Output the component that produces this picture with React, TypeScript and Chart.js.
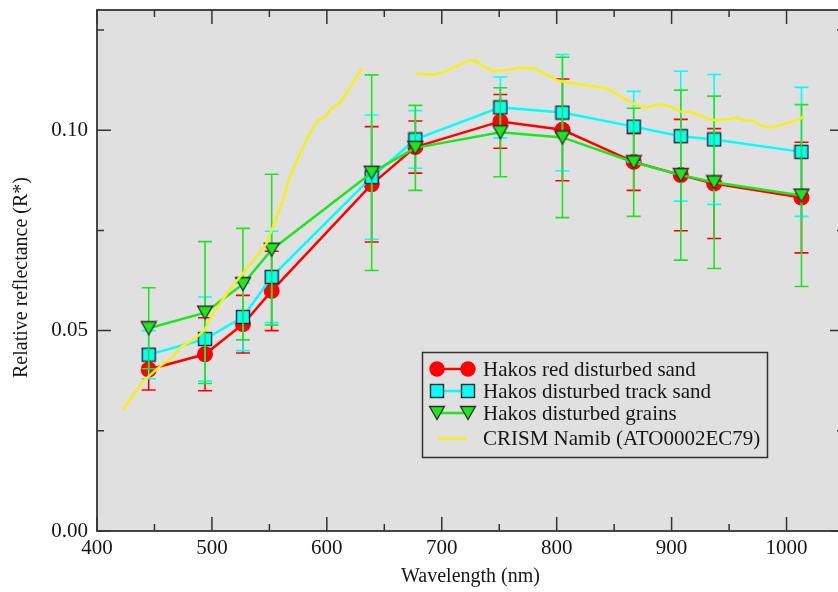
import React, { useEffect, useRef } from 'react';
import { Chart, registerables } from 'chart.js';

Chart.register(...registerables);

// ---------------- data ----------------
const wavelengths = [445, 494, 527, 552, 639, 677, 751, 805, 867, 908, 937, 1013];

const redSand = [0.0403, 0.0441, 0.0516, 0.0599, 0.0865, 0.0958, 0.1022, 0.1001, 0.0921, 0.0888, 0.0867, 0.0832];
const redSandErr = [0.0051, 0.0091, 0.0072, 0.0099, 0.0144, 0.0065, 0.0067, 0.0127, 0.0071, 0.0139, 0.0137, 0.0138];

const trackSand = [0.044, 0.0479, 0.0534, 0.0634, 0.0883, 0.0977, 0.1057, 0.1044, 0.1009, 0.0985, 0.0977, 0.0946];
const trackSandErr = [0.006, 0.0105, 0.0084, 0.0114, 0.0155, 0.0072, 0.0076, 0.0145, 0.0088, 0.0162, 0.0162, 0.0161];

const grains = [0.0506, 0.0545, 0.0616, 0.0702, 0.0894, 0.0956, 0.0995, 0.0982, 0.092, 0.0888, 0.087, 0.0837];
const grainsErr = [0.0101, 0.0177, 0.0139, 0.0188, 0.0244, 0.0106, 0.0111, 0.02, 0.0135, 0.0212, 0.0215, 0.0227];

const crismWavelengths = [
  422.5, 428.3, 439.9, 454.4, 466.0, 473.3, 483.4, 493.6, 500.9, 511.1, 519.8, 527.0, 538.7, 547.4,
  553.1, 561.8, 567.7, 579.3, 585.1, 592.3, 598.2, 605.4, 611.2, 619.9, 627.2, 631.5,
  655,
  678.0, 692.5, 701.2, 711.4, 720.1, 727.9, 736.1, 744.8, 756.4, 766.6, 781.1, 791.3, 800.0, 808.7,
  820.3, 831.9, 843.6, 849.3, 861.0, 869.7, 878.4, 884.2, 892.9, 900.2, 907.4, 916.1, 924.8, 930.7,
  937.9, 948.1, 956.8, 962.6, 969.9, 977.1, 987.3, 996.0, 1004.7, 1011.9, 1015.4,
];
const crismValues: (number | null)[] = [
  0.0303, 0.0327, 0.0373, 0.041, 0.0435, 0.046, 0.0476, 0.0501, 0.0543, 0.0584, 0.0618, 0.0643, 0.0684, 0.0717,
  0.0759, 0.0825, 0.0884, 0.0958, 0.0992, 0.1025, 0.1033, 0.1058, 0.1068, 0.1104, 0.1141, 0.1156,
  null,
  0.1141, 0.1139, 0.1144, 0.1158, 0.117, 0.1175, 0.116, 0.1147, 0.115, 0.1155, 0.1154, 0.1139, 0.1125, 0.1119,
  0.1114, 0.111, 0.1104, 0.1096, 0.1075, 0.1062, 0.1057, 0.1062, 0.1064, 0.1058, 0.1047, 0.1046, 0.1037, 0.1029,
  0.1025, 0.1027, 0.1031, 0.1025, 0.1025, 0.1012, 0.1007, 0.1014, 0.1021, 0.1029, 0.1037,
];

const seriesLabels = [
  'Hakos red disturbed sand',
  'Hakos disturbed track sand',
  'Hakos disturbed grains',
  'CRISM Namib (ATO0002EC79)',
];

const xTickValues = [400, 500, 600, 700, 800, 900, 1000];
const xMinorTicks = [450, 550, 650, 750, 850, 950, 1050];
const yTickValues = [0, 0.05, 0.1];
const yTickLabels = ['0.00', '0.05', '0.10'];
const yMinorTicks = [0.025, 0.075, 0.125];

const xTitle = 'Wavelength (nm)';
const yTitle = 'Relative reflectance (R*)';

// ---------------- styles ----------------
const RED = '#ff0000';
const CYAN = '#00ffff';
const GREEN = '#1ee61e';
const YELLOW = '#f5ef1a';
const FRAME = '#333333';
const PLOT_BG = '#e0e0e0';
const TEXT = '#161616';
const FONT = "'Liberation Serif', 'Times New Roman', serif";

function makeSquare(): HTMLCanvasElement {
  const c = document.createElement('canvas');
  c.width = 16;
  c.height = 16;
  const g = c.getContext('2d')!;
  g.fillStyle = CYAN;
  g.fillRect(1.5, 1.5, 13, 13);
  g.strokeStyle = '#2a2a2a';
  g.lineWidth = 1.4;
  g.strokeRect(1.5, 1.5, 13, 13);
  return c;
}

function makeTriangle(): HTMLCanvasElement {
  const c = document.createElement('canvas');
  c.width = 18;
  c.height = 16;
  const g = c.getContext('2d')!;
  g.beginPath();
  g.moveTo(1.5, 1.5);
  g.lineTo(16.5, 1.5);
  g.lineTo(9, 14.5);
  g.closePath();
  g.fillStyle = GREEN;
  g.fill();
  g.strokeStyle = '#2a2a2a';
  g.lineWidth = 1.3;
  g.lineJoin = 'miter';
  g.stroke();
  return c;
}

function zeroPadding(axis: any) {
  axis.paddingTop = 0;
  axis.paddingBottom = 0;
  axis.paddingLeft = 0;
  axis.paddingRight = 0;
}

export default function App() {
  const ref = useRef<HTMLCanvasElement>(null);

  useEffect(() => {
    const canvas = ref.current;
    if (!canvas) return;
    const squareImg = makeSquare();
    const triangleImg = makeTriangle();

    const errorSets: Record<number, { values: number[]; errs: number[]; color: string }> = {
      0: { values: redSand, errs: redSandErr, color: RED },
      1: { values: trackSand, errs: trackSandErr, color: CYAN },
      2: { values: grains, errs: grainsErr, color: GREEN },
    };

    const bgPlugin = {
      id: 'plotBg',
      beforeDatasetsDraw(chart: any) {
        const { ctx, chartArea: a } = chart;
        ctx.save();
        ctx.fillStyle = PLOT_BG;
        ctx.fillRect(a.left, a.top, a.right - a.left, a.bottom - a.top);
        ctx.restore();
      },
    };

    const errorBarPlugin = {
      id: 'errorBars',
      beforeDatasetDraw(chart: any, args: any) {
        const set = errorSets[args.index];
        if (!set) return;
        const { ctx } = chart;
        const xs = chart.scales.x;
        const ys = chart.scales.y;
        ctx.save();
        ctx.strokeStyle = set.color;
        ctx.lineWidth = 1.6;
        const cap = 7;
        wavelengths.forEach((w, i) => {
          const px = xs.getPixelForValue(w);
          const top = ys.getPixelForValue(set.values[i] + set.errs[i]);
          const bot = ys.getPixelForValue(set.values[i] - set.errs[i]);
          ctx.beginPath();
          ctx.moveTo(px, top);
          ctx.lineTo(px, bot);
          ctx.moveTo(px - cap, top);
          ctx.lineTo(px + cap, top);
          ctx.moveTo(px - cap, bot);
          ctx.lineTo(px + cap, bot);
          ctx.stroke();
        });
        ctx.restore();
      },
    };

    const framePlugin = {
      id: 'frameTicks',
      afterDatasetsDraw(chart: any) {
        const { ctx, chartArea: a } = chart;
        const xs = chart.scales.x;
        const ys = chart.scales.y;
        ctx.save();
        ctx.strokeStyle = FRAME;
        ctx.lineWidth = 1.5;
        const major = 14;
        const minor = 7;
        ctx.beginPath();
        xTickValues.forEach((v) => {
          const p = xs.getPixelForValue(v);
          ctx.moveTo(p, a.bottom);
          ctx.lineTo(p, a.bottom - major);
          ctx.moveTo(p, a.top);
          ctx.lineTo(p, a.top + major);
        });
        xMinorTicks.forEach((v) => {
          const p = xs.getPixelForValue(v);
          ctx.moveTo(p, a.bottom);
          ctx.lineTo(p, a.bottom - minor);
          ctx.moveTo(p, a.top);
          ctx.lineTo(p, a.top + minor);
        });
        yTickValues.forEach((v) => {
          const p = ys.getPixelForValue(v);
          ctx.moveTo(a.left, p);
          ctx.lineTo(a.left + major, p);
          ctx.moveTo(a.right, p);
          ctx.lineTo(a.right - major, p);
        });
        yMinorTicks.forEach((v) => {
          const p = ys.getPixelForValue(v);
          ctx.moveTo(a.left, p);
          ctx.lineTo(a.left + minor, p);
          ctx.moveTo(a.right, p);
          ctx.lineTo(a.right - minor, p);
        });
        ctx.stroke();
        ctx.lineWidth = 1.8;
        ctx.strokeRect(a.left, a.top, a.right - a.left, a.bottom - a.top);
        ctx.restore();
      },
    };

    const legendPlugin = {
      id: 'boxLegend',
      afterDraw(chart: any) {
        const { ctx } = chart;
        const bx = 422.5;
        const by = 352.5;
        const bw = 345;
        const bh = 105;
        ctx.save();
        ctx.fillStyle = PLOT_BG;
        ctx.fillRect(bx, by, bw, bh);
        ctx.strokeStyle = FRAME;
        ctx.lineWidth = 1.5;
        ctx.strokeRect(bx, by, bw, bh);
        const rows = [369, 391, 413, 438.5];
        const colors = [RED, CYAN, GREEN, YELLOW];
        const m1 = 437;
        const m2 = 468;
        rows.forEach((ry, i) => {
          ctx.strokeStyle = colors[i];
          ctx.lineWidth = 2.5;
          ctx.beginPath();
          if (i === 3) {
            ctx.moveTo(m1 + 1, ry);
            ctx.lineTo(m2 - 1, ry);
          } else {
            ctx.moveTo(m1, ry);
            ctx.lineTo(m2, ry);
          }
          ctx.stroke();
          [m1, m2].forEach((mx) => {
            if (i === 0) {
              ctx.fillStyle = RED;
              ctx.beginPath();
              ctx.arc(mx, ry, 7.7, 0, Math.PI * 2);
              ctx.fill();
            } else if (i === 1) {
              ctx.drawImage(squareImg, mx - 8, ry - 8);
            } else if (i === 2) {
              ctx.drawImage(triangleImg, mx - 9, ry - 8);
            }
          });
          ctx.fillStyle = TEXT;
          ctx.font = `21px ${FONT}`;
          ctx.textAlign = 'left';
          ctx.textBaseline = 'middle';
          ctx.fillText(seriesLabels[i], 483, ry + 1);
        });

        // axis titles
        const a = chart.chartArea;
        ctx.fillStyle = TEXT;
        ctx.font = `20px ${FONT}`;
        ctx.textAlign = 'center';
        ctx.textBaseline = 'middle';
        ctx.fillText(xTitle, (a.left + a.right) / 2, 577);
        ctx.translate(22, (a.top + a.bottom) / 2 + 7);
        ctx.rotate(-Math.PI / 2);
        ctx.fillText(yTitle, 0, 0);
        ctx.restore();
      },
    };

    const chart = new Chart(canvas, {
      type: 'scatter',
      data: {
        datasets: [
          {
            label: seriesLabels[0],
            data: wavelengths.map((w, i) => ({ x: w, y: redSand[i] })),
            showLine: true,
            borderColor: RED,
            borderWidth: 2.5,
            pointStyle: 'circle',
            pointRadius: 8,
            pointBackgroundColor: RED,
            pointBorderWidth: 0,
            order: 4,
          },
          {
            label: seriesLabels[1],
            data: wavelengths.map((w, i) => ({ x: w, y: trackSand[i] })),
            showLine: true,
            borderColor: CYAN,
            borderWidth: 2.5,
            pointStyle: squareImg as any,
            pointRadius: 8,
            order: 3,
          },
          {
            label: seriesLabels[2],
            data: wavelengths.map((w, i) => ({ x: w, y: grains[i] })),
            showLine: true,
            borderColor: GREEN,
            borderWidth: 2.5,
            pointStyle: triangleImg as any,
            pointRadius: 8,
            order: 2,
          },
          {
            label: seriesLabels[3],
            data: crismWavelengths.map((w, i) => ({ x: w, y: crismValues[i] as any })),
            showLine: true,
            spanGaps: false,
            borderColor: YELLOW,
            borderWidth: 2.5,
            pointRadius: 0,
            order: 1,
          },
        ],
      },
      options: {
        animation: false,
        responsive: false,
        events: [],
        layout: { autoPadding: false, padding: { top: 10, left: 0, right: 0, bottom: 0 } },
        plugins: {
          legend: { display: false },
          tooltip: { enabled: false },
        },
        scales: {
          x: {
            type: 'linear',
            min: 400,
            max: 1050,
            grid: { display: false, drawTicks: false },
            border: { display: false },
            afterBuildTicks: (axis: any) => {
              axis.ticks = xTickValues.map((v) => ({ value: v }));
            },
            afterFit: (axis: any) => {
              axis.height = 61;
              zeroPadding(axis);
            },
            ticks: {
              autoSkip: false,
              maxRotation: 0,
              padding: 5,
              color: TEXT,
              font: { family: FONT, size: 21 },
              callback: (v: any) => String(v),
            },
          },
          y: {
            type: 'linear',
            min: 0,
            max: 0.13,
            grid: { display: false, drawTicks: false },
            border: { display: false },
            afterBuildTicks: (axis: any) => {
              axis.ticks = yTickValues.map((v) => ({ value: v }));
            },
            afterFit: (axis: any) => {
              axis.width = 97;
              zeroPadding(axis);
            },
            ticks: {
              autoSkip: false,
              padding: 9,
              color: TEXT,
              font: { family: FONT, size: 21 },
              callback: (_v: any, i: number) => yTickLabels[i],
            },
          },
        },
      },
      plugins: [bgPlugin, errorBarPlugin, framePlugin, legendPlugin],
    } as any);

    return () => chart.destroy();
  }, []);

  return (
    <div
      style={{
        position: 'fixed',
        left: 0,
        top: 0,
        width: 838,
        height: 592,
        overflow: 'hidden',
        background: '#ffffff',
      }}
    >
      <canvas ref={ref} width={844} height={592} style={{ display: 'block', width: 844, height: 592 }} />
    </div>
  );
}
